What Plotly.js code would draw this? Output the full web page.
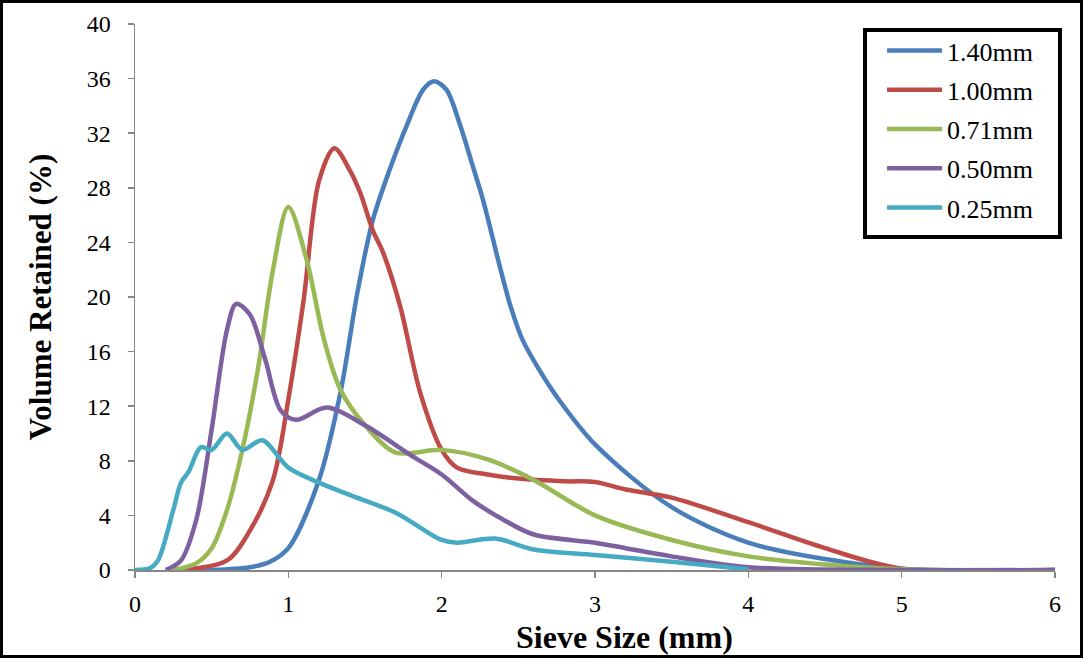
<!DOCTYPE html>
<html>
<head>
<meta charset="utf-8">
<script src="https://cdn.plot.ly/plotly-3.0.1.min.js"></script>
<style>
html,body{margin:0;padding:0;background:#fff;}
#frame{position:absolute;left:0;top:0;width:1083px;height:658px;box-sizing:border-box;border:3px solid #000;pointer-events:none;}
#chart{position:absolute;left:0;top:0;width:1083px;height:658px;}
</style>
</head>
<body>
<div id="chart"></div>
<div id="frame"></div>
<script>
const names = ["1.40mm", "1.00mm", "0.71mm", "0.50mm", "0.25mm"];
const colors = ["#4A7EBB", "#BE4B48", "#98B954", "#7D60A0", "#46AAC5"];
const xTitle = "Sieve Size (mm)";
const yTitle = "Volume Retained (%)";

const x140 = [0.3, 0.5, 0.75, 0.88, 1.0, 1.2, 1.34, 1.45, 1.55, 1.66, 1.77, 1.88, 1.95, 2.03, 2.12, 2.2, 2.27, 2.38, 2.45, 2.53, 2.64, 2.75, 3.0, 3.5, 4.0, 4.5, 5.0, 6.0];
const y140 = [0, 0, 0.2, 0.6, 1.6, 6.6, 13, 20.3, 25.6, 29.3, 32.5, 35.2, 35.8, 35.2, 32.6, 29.7, 27.1, 22.2, 19.3, 16.8, 14.6, 12.7, 9.2, 4.6, 2.0, 0.8, 0.1, 0];

const x100 = [0.3, 0.6, 0.75, 0.9, 1.0, 1.1, 1.2, 1.3, 1.4, 1.47, 1.55, 1.62, 1.73, 1.86, 2.0, 2.1, 2.3, 2.5, 2.8, 3.0, 3.2, 3.5, 4.0, 4.5, 5.0, 6.0];
const y100 = [0, 0.7, 2.9, 6.6, 12.5, 19.8, 28.5, 30.9, 29.3, 27.6, 24.9, 23.2, 19.3, 13, 8.8, 7.5, 7.0, 6.7, 6.5, 6.45, 5.9, 5.3, 3.5, 1.6, 0.1, 0];

const x071 = [0.25, 0.4, 0.5, 0.6, 0.7, 0.8, 0.9, 1.0, 1.12, 1.23, 1.34, 1.5, 1.7, 2.0, 2.3, 2.6, 3.0, 3.5, 4.0, 4.5, 5.0, 6.0];
const y071 = [0, 0.5, 1.6, 4.4, 8.8, 14.6, 22, 26.6, 22.7, 17, 13.2, 10.6, 8.6, 8.8, 8.1, 6.6, 4.0, 2.2, 1.0, 0.4, 0.05, 0];

const x050 = [0.2, 0.3, 0.4, 0.5, 0.6, 0.66, 0.75, 0.85, 0.95, 1.05, 1.25, 1.5, 1.8, 2.0, 2.2, 2.4, 2.6, 3.0, 3.2, 3.5, 4.0, 5.0, 6.0];
const y050 = [0, 0.7, 3.7, 10.3, 17.6, 19.5, 18.7, 15.4, 11.7, 11.0, 11.9, 10.6, 8.4, 7.0, 5.1, 3.7, 2.6, 2.0, 1.6, 1.0, 0.2, 0, 0];

const x025 = [0, 0.1, 0.15, 0.25, 0.3, 0.35, 0.43, 0.5, 0.6, 0.7, 0.83, 1.0, 1.2, 1.4, 1.7, 2.0, 2.1, 2.35, 2.6, 3.0, 3.5, 4.0];
const y025 = [0, 0.15, 0.7, 4.4, 6.4, 7.2, 9.0, 8.8, 10.0, 8.8, 9.5, 7.5, 6.4, 5.5, 4.2, 2.2, 2.0, 2.3, 1.5, 1.1, 0.6, 0.05];

const xs = [x140, x100, x071, x050, x025];
const ys = [y140, y100, y071, y050, y025];

const serif = "'Liberation Serif', 'Times New Roman', Times, serif";

const traces = names.map((n, i) => ({
  x: xs[i], y: ys[i], name: n, type: "scatter", mode: "lines",
  legendgroup: "g" + i,
  line: {color: colors[i], width: 4.5, shape: "spline", smoothing: 0.9}
}));

const tickFont = {family: serif, size: 24, color: "#000"};
const layout = {
  width: 1083, height: 658,
  margin: {l: 135, r: 28, t: 24, b: 88},
  paper_bgcolor: "#fff", plot_bgcolor: "#fff",
  showlegend: true,
  font: {family: serif, size: 24, color: "#000"},
  xaxis: {
    range: [0, 6], dtick: 1, tick0: 0, showgrid: false, zeroline: false,
    showline: true, linecolor: "#868686", linewidth: 1.5,
    ticks: "outside", ticklen: 6, tickcolor: "#868686", tickwidth: 1.5,
    tickfont: tickFont, ticklabelstandoff: 6
  },
  yaxis: {
    range: [0, 40], dtick: 4, tick0: 0, showgrid: false, zeroline: false,
    showline: true, linecolor: "#868686", linewidth: 1.5,
    ticks: "outside", ticklen: 6, tickcolor: "#868686", tickwidth: 1.5,
    tickfont: tickFont, ticklabelstandoff: 12,
    title: {text: "<b>" + yTitle + "</b>", font: {family: serif, size: 31, color: "#000"}, standoff: 26}
  },
  annotations: [{
    text: "<b>" + xTitle + "</b>", xref: "paper", yref: "paper",
    x: 0.5326, y: -0.122, xanchor: "center", yanchor: "middle", showarrow: false,
    font: {family: serif, size: 32, color: "#000"}
  }],
  shapes: [{
    type: "rect", xref: "paper", yref: "paper", layer: "above",
    x0: 0.7935, x1: 1.0054, y0: 0.6099, y1: 0.989,
    line: {color: "#000", width: 4}
  }],
  legend: {
    x: 0.812, xanchor: "left", y: 0.9945, yanchor: "top",
    bgcolor: "rgba(0,0,0,0)", borderwidth: 0,
    font: {family: serif, size: 26, color: "#000"},
    itemwidth: 55, tracegroupgap: 2.5
  }
};

Plotly.newPlot("chart", traces, layout, {displayModeBar: false, staticPlot: true});
</script>
</body>
</html>
